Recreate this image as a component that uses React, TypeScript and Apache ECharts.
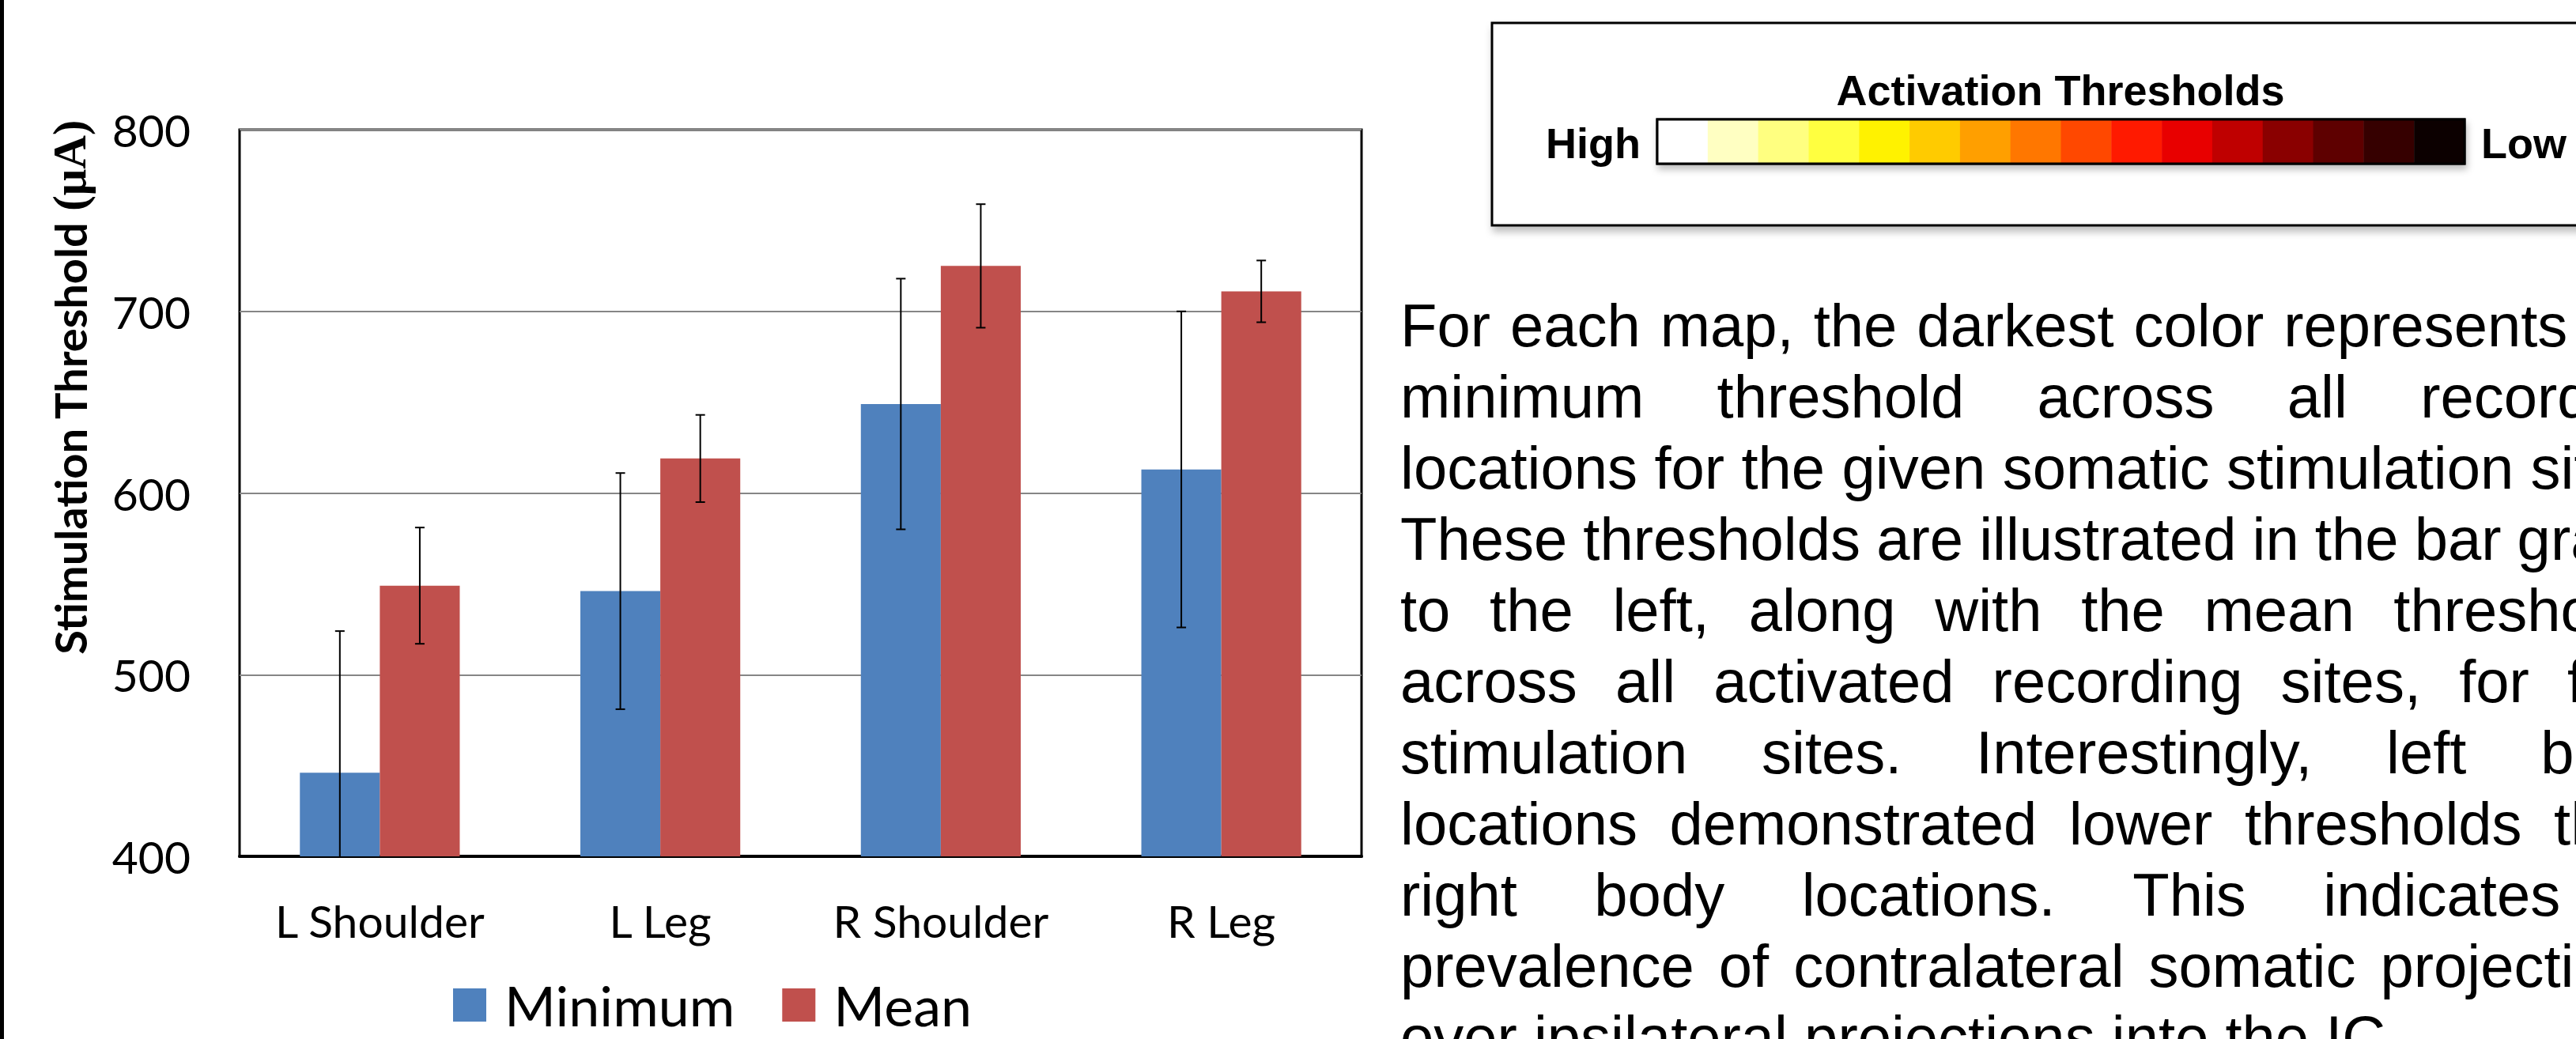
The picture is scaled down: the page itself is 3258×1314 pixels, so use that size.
import React, { useEffect, useRef } from "react";
import * as echarts from "echarts";

// ---------- data ----------
const categories = ["L Shoulder", "L Leg", "R Shoulder", "R Leg"];
const minimumValues = [446, 546, 649, 613];
const minimumErrors = [78, 65, 69, 87];
const meanValues = [549, 619, 725, 711];
const meanErrors = [32, 24, 34, 17];
const yMin = 400;
const yMax = 800;
const yInterval = 100;
const seriesNames = ["Minimum", "Mean"];
const seriesColors = ["#4F81BD", "#C0504D"];
const yTitle = "Stimulation Threshold ";
const yTitleUnit = "(μA)";
const colorbarTitle = "Activation Thresholds";
const colorbarHigh = "High";
const colorbarLow = "Low";
const colorScale = [
  "#FFFFFF", "#FFFFC2", "#FFFF80", "#FFFF40", "#FFF200", "#FFCB00",
  "#FF9F00", "#FF7700", "#FF4800", "#FF1A00", "#E80000", "#BF0000",
  "#8A0000", "#5E0000", "#360000", "#0C0000",
];
const paragraphLines = [
  "For each map, the darkest color represents the",
  "minimum threshold across all recording",
  "locations for the given somatic stimulation sites.",
  "These thresholds are illustrated in the bar graph",
  "to the left, along with the mean thresholds",
  "across all activated recording sites, for four",
  "stimulation sites. Interestingly, left body",
  "locations demonstrated lower thresholds than",
  "right body locations. This indicates a",
  "prevalence of contralateral somatic projections",
  "over ipsilateral projections into the IC.",
];

// ---------- layout ----------
const W = 3258;
const H = 1314;
const GRID = { left: 303, top: 164, width: 1419, height: 919 };
const CAT_GAP = 0.43;
const CHART_FONT = "Lato";
const TEXT_FONT = '"Liberation Sans", Arial, sans-serif';
const PARA = { x: 1771, baseline: 438, lineHeight: 90, width: 1607, fontSize: 76 };

function buildParagraph(): any[] {
  const canvas = document.createElement("canvas");
  const ctx = canvas.getContext("2d")!;
  ctx.font = `${PARA.fontSize}px ${TEXT_FONT}`;
  const els: any[] = [];
  paragraphLines.forEach((line, li) => {
    const words = line.split(" ");
    const widths = words.map((w) => ctx.measureText(w).width);
    const total = widths.reduce((a, b) => a + b, 0);
    const isLast = li === paragraphLines.length - 1;
    const spaceW = ctx.measureText(" ").width;
    const gap = isLast || words.length < 2 ? spaceW : (PARA.width - total) / (words.length - 1);
    let x = PARA.x;
    const yMid = PARA.baseline + li * PARA.lineHeight - 0.3465 * PARA.fontSize;
    words.forEach((w, wi) => {
      if (x < W - 4) {
        els.push({
          type: "text",
          x,
          y: yMid,
          silent: true,
          style: {
            text: w,
            fontFamily: TEXT_FONT,
            fontSize: PARA.fontSize,
            fill: "#000",
            textAlign: "left",
            textVerticalAlign: "middle",
          },
        });
      }
      x += widths[wi] + gap;
    });
  });
  return els;
}

function buildColorbar(): any[] {
  const box = { x: 1887, y: 29, w: 1500, h: 256 };
  const bar = { x: 2096, y: 151, w: 1021, h: 56 };
  const segW = bar.w / colorScale.length;
  const els: any[] = [
    {
      type: "rect",
      shape: { x: box.x, y: box.y, width: box.w, height: box.h },
      style: {
        fill: "#fff",
        stroke: "#000",
        lineWidth: 3,
        shadowBlur: 10,
        shadowOffsetX: 2,
        shadowOffsetY: 7,
        shadowColor: "rgba(0,0,0,0.25)",
      },
      z: 1,
    },
    {
      type: "rect",
      shape: { x: bar.x, y: bar.y, width: bar.w, height: bar.h },
      style: {
        fill: "#fff",
        stroke: "#000",
        lineWidth: 3,
        shadowBlur: 8,
        shadowOffsetX: 2,
        shadowOffsetY: 6,
        shadowColor: "rgba(0,0,0,0.25)",
      },
      z: 2,
    },
  ];
  colorScale.forEach((c, i) => {
    els.push({
      type: "rect",
      shape: { x: bar.x + i * segW, y: bar.y, width: segW + 0.5, height: bar.h },
      style: { fill: c },
      z: 3,
    });
  });
  els.push({
    type: "rect",
    shape: { x: bar.x, y: bar.y, width: bar.w, height: bar.h },
    style: { fill: "none", stroke: "#000", lineWidth: 3 },
    z: 4,
  });
  const bold = { fontFamily: TEXT_FONT, fontWeight: "bold", fontSize: 54, fill: "#000" };
  els.push({
    type: "text",
    x: 2606,
    y: 133 - 0.3465 * 54,
    z: 4,
    style: { ...bold, text: colorbarTitle, textAlign: "center", textVerticalAlign: "middle" },
  });
  els.push({
    type: "text",
    x: 2075,
    y: 200 - 0.3465 * 54,
    z: 4,
    style: { ...bold, text: colorbarHigh, textAlign: "right", textVerticalAlign: "middle" },
  });
  els.push({
    type: "text",
    x: 3138,
    y: 200 - 0.3465 * 54,
    z: 4,
    style: { ...bold, text: colorbarLow, textAlign: "left", textVerticalAlign: "middle" },
  });
  return els;
}

function errorSeries(values: number[], errors: number[], sideIndex: number) {
  const data = values.map((v, i) => [i, v - errors[i], v + errors[i]]);
  return {
    type: "custom",
    clip: true,
    z: 5,
    silent: true,
    encode: { x: 0, y: [1, 2] },
    data,
    renderItem: (params: any, api: any) => {
      const idx = api.value(0);
      const lo = Math.max(api.value(1), yMin);
      const hi = api.value(2);
      const pLo = api.coord([idx, lo]);
      const pHi = api.coord([idx, hi]);
      const band = api.size([1, 0])[0];
      const barW = (band * (1 - CAT_GAP)) / 2;
      const cx = pLo[0] + (sideIndex === 0 ? -0.5 : 0.5) * barW;
      const cap = 6;
      const style = { stroke: "#000", lineWidth: 2 };
      const children: any[] = [
        { type: "line", shape: { x1: cx, y1: pHi[1], x2: cx, y2: pLo[1] }, style },
        { type: "line", shape: { x1: cx - cap, y1: pHi[1], x2: cx + cap, y2: pHi[1] }, style },
      ];
      if (api.value(1) > yMin) {
        children.push({ type: "line", shape: { x1: cx - cap, y1: pLo[1], x2: cx + cap, y2: pLo[1] }, style });
      }
      return { type: "group", children };
    },
  };
}

export default function App() {
  const ref = useRef<HTMLDivElement>(null);
  useEffect(() => {
    document.body.style.margin = "0";
    if (!ref.current) return;
    const chart = echarts.init(ref.current, undefined, { renderer: "svg", width: W, height: H });
    const option: any = {
      animation: false,
      backgroundColor: "#fff",
      grid: {
        ...GRID,
        show: true,
        borderColor: "#000",
        borderWidth: 3,
        backgroundColor: "transparent",
        containLabel: false,
      },
      legend: {
        data: seriesNames,
        left: 573,
        top: 1236,
        padding: 0,
        icon: "rect",
        itemWidth: 42,
        itemHeight: 42,
        itemGap: 60,
        textStyle: {
          fontFamily: CHART_FONT,
          fontSize: 70,
          color: "#000",
          padding: [0, 0, 0, 18],
        },
      },
      xAxis: {
        type: "category",
        data: categories,
        axisLine: { show: true, lineStyle: { color: "#000", width: 4 } },
        axisTick: { show: false },
        axisLabel: { fontFamily: CHART_FONT, fontSize: 57, color: "#000", margin: 52 },
        splitLine: { show: false },
      },
      yAxis: {
        type: "value",
        min: yMin,
        max: yMax,
        interval: yInterval,
        axisLine: { show: false },
        axisTick: { show: false },
        axisLabel: { fontFamily: CHART_FONT, fontSize: 57, color: "#000", margin: 62 },
        splitLine: { show: true, lineStyle: { color: "#868686", width: 2 } },
      },
      series: [
        {
          name: seriesNames[0],
          type: "bar",
          data: minimumValues,
          itemStyle: { color: seriesColors[0] },
          barGap: "0%",
          barCategoryGap: `${CAT_GAP * 100}%`,
          z: 2,
        },
        {
          name: seriesNames[1],
          type: "bar",
          data: meanValues,
          itemStyle: { color: seriesColors[1] },
          barGap: "0%",
          barCategoryGap: `${CAT_GAP * 100}%`,
          z: 2,
        },
        errorSeries(minimumValues, minimumErrors, 0),
        errorSeries(meanValues, meanErrors, 1),
      ],
      graphic: [
        {
          type: "rect",
          shape: { x: 0, y: 0, width: 5, height: H },
          style: { fill: "#000" },
        },
        {
          type: "text",
          x: 88,
          y: 490,
          rotation: Math.PI / 2,
          style: {
            text: `{b|${yTitle}}{u|${yTitleUnit}}`,
            textAlign: "center",
            textVerticalAlign: "middle",
            rich: {
              b: { fontFamily: CHART_FONT, fontWeight: "bold", fontSize: 56, fill: "#000" },
              u: { fontFamily: '"Liberation Serif", serif', fontWeight: "bold", fontSize: 59, fill: "#000" },
            },
          },
        },
        ...buildColorbar(),
        ...buildParagraph(),
      ],
    };
    chart.setOption(option);
    return () => chart.dispose();
  }, []);
  return <div ref={ref} style={{ width: W, height: H, position: "absolute", left: 0, top: 0 }} />;
}
